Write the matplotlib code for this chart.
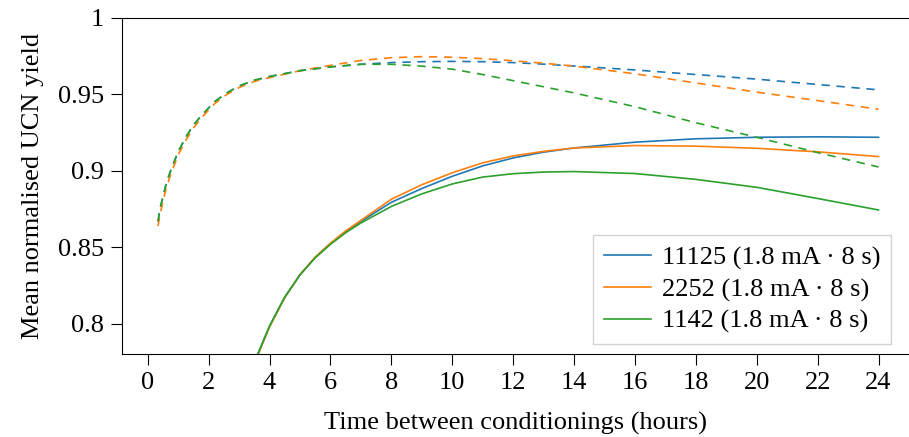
import matplotlib
matplotlib.use("Agg")
import matplotlib.pyplot as plt
from matplotlib.ticker import StrMethodFormatter

plt.rcParams['font.family'] = ['Liberation Serif', 'DejaVu Serif']

# solid curves
t_fit = [3.6, 4.0, 4.5, 5.0, 5.5, 6, 6.5, 7, 8, 9, 10, 11, 12, 13, 14, 16, 18, 20, 22, 24]
fit_11125 = [0.7795, 0.7985, 0.8175, 0.8322, 0.8435, 0.8525, 0.8603, 0.8670, 0.8795, 0.8885,
             0.8965, 0.9033, 0.9085, 0.9123, 0.9150, 0.9188, 0.9210, 0.9220, 0.9223, 0.9220]
fit_2252 = [0.7788, 0.7980, 0.8172, 0.8322, 0.8437, 0.8528, 0.8608, 0.8677, 0.8815, 0.8910,
            0.8988, 0.9053, 0.9098, 0.9128, 0.9150, 0.9166, 0.9162, 0.9148, 0.9125, 0.9094]
fit_1142 = [0.7795, 0.7985, 0.8175, 0.8320, 0.8432, 0.8520, 0.8596, 0.8660, 0.8768, 0.8850,
            0.8915, 0.8960, 0.8982, 0.8993, 0.8996, 0.8983, 0.8945, 0.8893, 0.8820, 0.8745]

# dashed curves
t_ext = [0.34, 0.4, 0.5, 0.6, 0.75, 1.0, 1.25, 1.5, 1.8, 2.2, 2.6, 3, 3.5, 4, 5, 6, 7, 8,
         9, 10, 11, 12, 13, 14, 16, 18, 20, 22, 24]
ext_11125 = [0.867, 0.875, 0.883, 0.891, 0.900, 0.9126, 0.922, 0.930, 0.937, 0.9453, 0.951,
             0.9555, 0.9593, 0.9617, 0.9655, 0.9680, 0.9697, 0.9708, 0.9714, 0.9716, 0.9714,
             0.9708, 0.9698, 0.9686, 0.9660, 0.9630, 0.9600, 0.9565, 0.9530]
ext_2252 = [0.864, 0.871, 0.880, 0.888, 0.8975, 0.9105, 0.920, 0.928, 0.9355, 0.944, 0.950,
            0.9545, 0.9585, 0.9610, 0.9655, 0.9690, 0.9722, 0.9740, 0.9747, 0.9743, 0.9734,
            0.9720, 0.9704, 0.9685, 0.9635, 0.9575, 0.9515, 0.9460, 0.9403]
ext_1142 = [0.867, 0.875, 0.883, 0.891, 0.900, 0.9126, 0.922, 0.930, 0.937, 0.9453, 0.951,
            0.9555, 0.9593, 0.9617, 0.9655, 0.9680, 0.9697, 0.9697, 0.9685, 0.9665, 0.9630,
            0.9590, 0.9550, 0.9510, 0.9420, 0.9315, 0.9220, 0.9120, 0.9026]

labels = ['11125 (1.8 mA · 8 s)', '2252 (1.8 mA · 8 s)', '1142 (1.8 mA · 8 s)']
colors = ['tab:blue', 'tab:orange', 'tab:green']

fig = plt.figure(figsize=(9.09, 4.37), dpi=100)
ax = fig.add_axes([0.134, 0.190, 0.866, 0.769])

fits = [fit_11125, fit_2252, fit_1142]
exts = [ext_11125, ext_2252, ext_1142]
for f, e, lab, c in zip(fits, exts, labels, colors):
    ax.plot(t_fit, f, color=c, lw=1.2, label=lab)
    ax.plot(t_ext, e, color=c, lw=1.2, linestyle=(0, (5, 4)))

ax.set_xlim(-0.85, 25)
ax.set_ylim(0.7804, 1.0)
ax.set_xticks(range(0, 25, 2))
ax.set_yticks([0.8, 0.85, 0.9, 0.95, 1.0])
ax.yaxis.set_major_formatter(StrMethodFormatter('{x:g}'))
ax.tick_params(direction='out', length=8, width=0.8, labelsize=19, pad=5)
ax.spines['right'].set_visible(False)

ax.set_xlabel('Time between conditionings (hours)', fontsize=19, labelpad=13)
ax.set_ylabel('Mean normalised UCN yield', fontsize=19, labelpad=10)

leg = ax.legend(loc='lower right', bbox_to_anchor=(891 / 909, 1 - 344 / 437),
                bbox_transform=fig.transFigure, borderaxespad=0,
                fontsize=19, fancybox=False, framealpha=1, edgecolor='lightgray',
                handlelength=1.8, handletextpad=0.4, borderpad=0.4, labelspacing=0.3)

fig.savefig('out.png', dpi=100)
